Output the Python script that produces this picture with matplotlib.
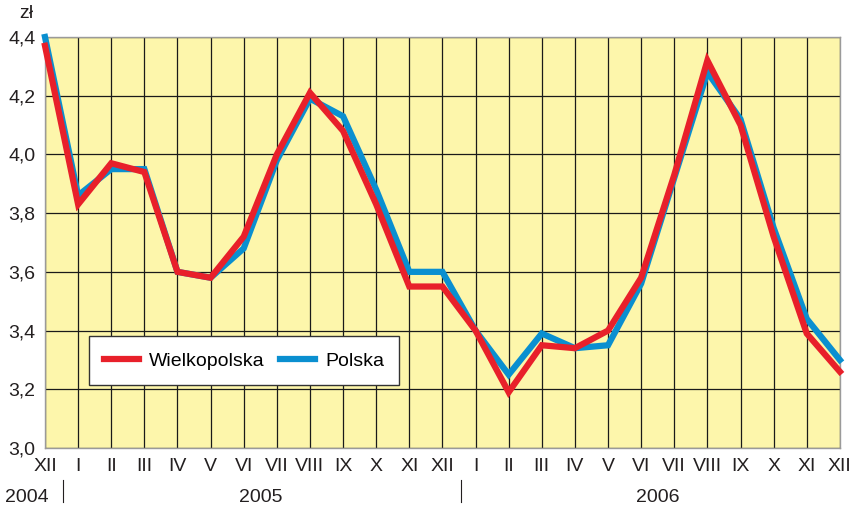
import numpy as np
import matplotlib.pyplot as plt
from matplotlib.transforms import blended_transform_factory

months = ['XII', 'I', 'II', 'III', 'IV', 'V', 'VI', 'VII', 'VIII', 'IX', 'X', 'XI', 'XII',
          'I', 'II', 'III', 'IV', 'V', 'VI', 'VII', 'VIII', 'IX', 'X', 'XI', 'XII']
wielkopolska = [4.37, 3.83, 3.97, 3.94, 3.60, 3.58, 3.72, 4.00, 4.21, 4.08, 3.83, 3.55, 3.55,
                3.40, 3.19, 3.35, 3.34, 3.40, 3.58, 3.93, 4.32, 4.10, 3.72, 3.39, 3.26]
polska = [4.40, 3.86, 3.95, 3.95, 3.60, 3.58, 3.68, 3.98, 4.19, 4.13, 3.88, 3.60, 3.60,
          3.40, 3.25, 3.39, 3.34, 3.35, 3.56, 3.92, 4.28, 4.12, 3.75, 3.44, 3.30]
years = ['2004', '2005', '2006']
year_pos = [-0.55, 6.5, 18.5]
year_breaks = [0.55, 12.55]

plt.rcParams['font.family'] = ['Liberation Sans', 'DejaVu Sans']
fs = 14

fig = plt.figure(figsize=(8.57, 5.11), dpi=100)
ax = fig.add_axes([0.0525, 0.1233, 0.9275, 0.8043])
ax.set_facecolor('#fdf6ab')

x = np.arange(len(months))
l_pl, = ax.plot(x, polska, color='#0a8fd0', lw=4.5, solid_joinstyle='miter', label='Polska', clip_on=False, zorder=3)
l_wk, = ax.plot(x, wielkopolska, color='#e8202a', lw=4.5, solid_joinstyle='miter', label='Wielkopolska', clip_on=False, zorder=4)

ax.set_xlim(0, 24)
ax.set_ylim(3.0, 4.4)
ax.set_xticks(x)
ax.set_xticklabels(months, fontsize=fs, color='#231f20')
yt = np.arange(3.0, 4.41, 0.2)
ax.set_yticks(yt)
ax.set_yticklabels([('%.1f' % v).replace('.', ',') for v in yt], fontsize=fs, color='#231f20')
ax.tick_params(length=0, pad=7)
ax.grid(True, color='#1a1a1a', lw=0.9)
ax.set_axisbelow(True)
for s in ax.spines.values():
    s.set_color('#9a9a9a')
    s.set_linewidth(1)

fig.text(19 / 857, 1 - 13 / 511, 'zł', fontsize=fs, color='#231f20', va='center')

trans = blended_transform_factory(ax.transData, fig.transFigure)
for name, p in zip(years, year_pos):
    ax.text(p, 1 - 498 / 511, name, transform=trans, ha='center', va='center', fontsize=fs, color='#231f20')
for b in year_breaks:
    ax.plot([b, b], [1 - 480 / 511, 1 - 502 / 511], transform=trans, color='#231f20', lw=0.8, clip_on=False)

leg = ax.legend(handles=[l_wk, l_pl], loc='lower left', bbox_to_anchor=(0.055, 0.153), ncol=2,
                fontsize=fs, frameon=True, fancybox=False, handlelength=1.8, handletextpad=0.5,
                columnspacing=0.8, borderpad=0.8, borderaxespad=0, edgecolor='#333333', framealpha=1)
leg.get_frame().set_linewidth(1)

plt.savefig('out.png', dpi=100)
